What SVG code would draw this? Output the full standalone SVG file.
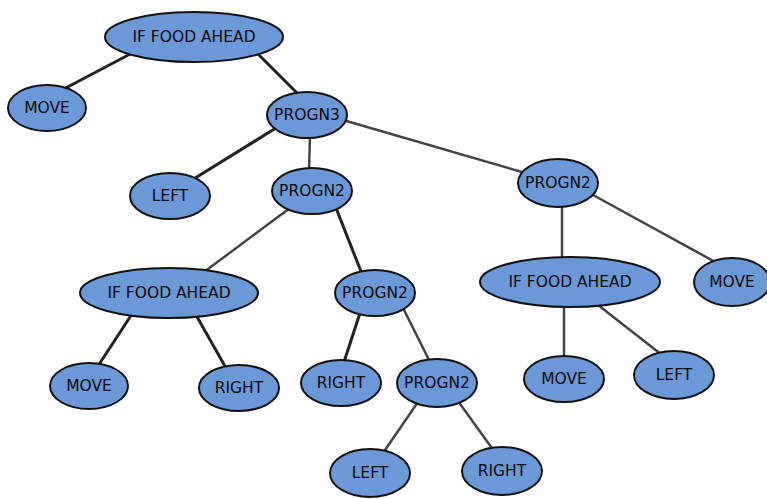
<svg xmlns="http://www.w3.org/2000/svg" width="767" height="499" viewBox="0 0 767 499">
  <style>
    .node ellipse { fill: #6b98d6; stroke: #111; stroke-width: 2; }
    .node text { font-family: "DejaVu Sans", sans-serif; font-size: 15.5px; fill: #0a0a0a; text-anchor: middle; dominant-baseline: central; }
    .edges line { stroke: #222; stroke-width: 3; }
    .edges line.thin { stroke: #444; stroke-width: 2.5; }
  </style>
  <rect width="767" height="499" fill="#fff"/>
  <!-- connectors run between the ellipse rims -->
  <g id="edges" class="edges">
    <line x1="134" y1="52" x2="60" y2="91"/>
    <line x1="258" y1="54" x2="300" y2="96"/>
    <line x1="276" y1="128" x2="192" y2="180"/>
    <line class="thin" x1="310" y1="135" x2="309" y2="170"/>
    <line class="thin" x1="343" y1="120" x2="522" y2="172"/>
    <line class="thin" x1="290" y1="208" x2="204" y2="272"/>
    <line x1="336" y1="208" x2="362" y2="274"/>
    <line x1="132" y1="314" x2="98" y2="366"/>
    <line x1="196" y1="315" x2="226" y2="368"/>
    <line x1="360" y1="313" x2="344" y2="362"/>
    <line class="thin" x1="403" y1="308" x2="430" y2="362"/>
    <line class="thin" x1="418" y1="402" x2="383" y2="453"/>
    <line class="thin" x1="458" y1="401" x2="494" y2="451"/>
    <line class="thin" x1="562" y1="204" x2="562" y2="260"/>
    <line class="thin" x1="593" y1="195" x2="717" y2="263"/>
    <line class="thin" x1="564" y1="305" x2="564" y2="358"/>
    <line class="thin" x1="598" y1="305" x2="662" y2="355"/>
  </g>
  <g id="n1" class="node"><ellipse cx="194" cy="37" rx="89" ry="25"/><text x="194" y="37">IF FOOD AHEAD</text></g>
  <g id="n2" class="node"><ellipse cx="47" cy="108" rx="39" ry="23"/><text x="47" y="108">MOVE</text></g>
  <g id="n3" class="node"><ellipse cx="307" cy="115" rx="40" ry="23"/><text x="307" y="115">PROGN3</text></g>
  <g id="n4" class="node"><ellipse cx="170" cy="196" rx="40" ry="23"/><text x="170" y="196">LEFT</text></g>
  <g id="n5" class="node"><ellipse cx="312" cy="191" rx="40" ry="23"/><text x="312" y="191">PROGN2</text></g>
  <g id="n6" class="node"><ellipse cx="558" cy="183" rx="40" ry="24"/><text x="558" y="183">PROGN2</text></g>
  <g id="n7" class="node"><ellipse cx="169" cy="293" rx="89" ry="25"/><text x="169" y="293">IF FOOD AHEAD</text></g>
  <g id="n8" class="node"><ellipse cx="375" cy="293" rx="40" ry="23"/><text x="375" y="293">PROGN2</text></g>
  <g id="n9" class="node"><ellipse cx="570" cy="282" rx="90" ry="25"/><text x="570" y="282">IF FOOD AHEAD</text></g>
  <g id="n10" class="node"><ellipse cx="732" cy="282" rx="38" ry="24"/><text x="732" y="282">MOVE</text></g>
  <g id="n11" class="node"><ellipse cx="89" cy="386" rx="39" ry="23"/><text x="89" y="386">MOVE</text></g>
  <g id="n12" class="node"><ellipse cx="239" cy="388" rx="40" ry="23"/><text x="239" y="388">RIGHT</text></g>
  <g id="n13" class="node"><ellipse cx="341" cy="383" rx="40" ry="23"/><text x="341" y="383">RIGHT</text></g>
  <g id="n14" class="node"><ellipse cx="437" cy="383" rx="40" ry="24"/><text x="437" y="383">PROGN2</text></g>
  <g id="n15" class="node"><ellipse cx="564" cy="379" rx="40" ry="23"/><text x="564" y="379">MOVE</text></g>
  <g id="n16" class="node"><ellipse cx="674" cy="375" rx="40" ry="24"/><text x="674" y="375">LEFT</text></g>
  <g id="n17" class="node"><ellipse cx="370" cy="473" rx="40" ry="24"/><text x="370" y="473">LEFT</text></g>
  <g id="n18" class="node"><ellipse cx="502" cy="471" rx="40" ry="24"/><text x="502" y="471">RIGHT</text></g>
</svg>
